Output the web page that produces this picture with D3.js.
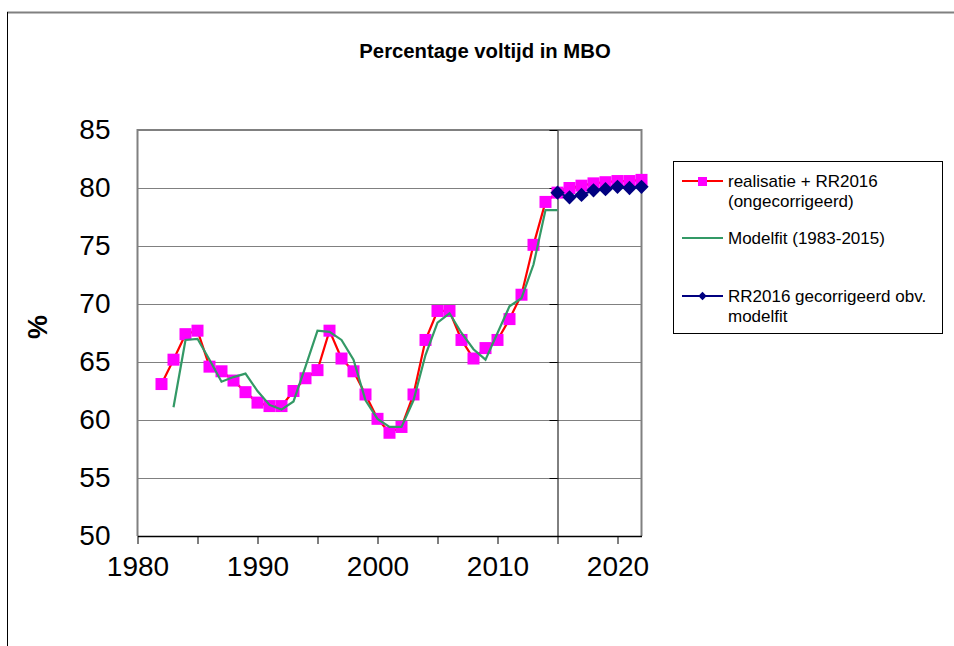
<!DOCTYPE html>
<html>
<head>
<meta charset="utf-8">
<script src="https://cdn.jsdelivr.net/npm/d3@7"></script>
<style>
  body { margin: 0; background: #fff; }
  svg { display: block; font-family: "Liberation Sans", Arial, sans-serif; }
</style>
</head>
<body>
<svg id="chart" width="954" height="646"></svg>
<script>
// data
const realYears = d3.range(1982, 2023)
const realVals = [63.1, 65.2, 67.4, 67.7, 64.6, 64.2, 63.4, 62.4, 61.5, 61.2,
  61.2, 62.5, 63.6, 64.3, 67.7, 65.3, 64.2, 62.2, 60.1, 58.9,
  59.4, 62.2, 66.9, 69.4, 69.4, 66.9, 65.3, 66.2, 66.9, 68.7,
  70.8, 75.1, 78.8, 79.6, 80.0, 80.2, 80.4, 80.5, 80.6, 80.6, 80.7]
const fitYears = d3.range(1983, 2016)
const fitVals = [61.1, 66.9, 67.0, 65.2, 63.3, 63.7, 64.0, 62.5, 61.3, 60.9,
  61.6, 64.6, 67.7, 67.6, 66.9, 65.2, 61.7, 60.1, 59.4, 59.4,
  61.7, 65.6, 68.4, 69.2, 67.5, 66.1, 65.2, 67.5, 69.8, 70.5,
  73.4, 78.1, 78.1]
const corrYears = d3.range(2015, 2023)
const corrVals = [79.6, 79.2, 79.4, 79.8, 79.9, 80.1, 80.0, 80.1]

const xTicks = d3.range(1980, 2021, 5)
const yTicks = d3.range(50, 86, 5)
const legendItems = [
  {lines: ["realisatie + RR2016", "(ongecorrigeerd)"], color: "#ff0000", marker: "square"},
  {lines: ["Modelfit (1983-2015)"], color: "#339966", marker: null},
  {lines: ["RR2016 gecorrigeerd obv.", "modelfit"], color: "#000080", marker: "diamond"}
]

const svg = d3.select("#chart")
const plot = {left: 137.5, right: 641.5, top: 130, bottom: 536}

let x = d3.scaleLinear().domain([1980, 2022]).range([plot.left, plot.right])
let y = d3.scaleLinear().domain([50, 85]).range([plot.bottom, plot.top])

// outer frame (only top and left visible)
svg.append("line").attr("x1", 7).attr("x2", 954).attr("y1", 12.5).attr("y2", 12.5)
  .attr("stroke", "#808080").attr("stroke-width", 2)
svg.append("line").attr("x1", 7.5).attr("x2", 7.5).attr("y1", 12).attr("y2", 646)
  .attr("stroke", "#000").attr("stroke-width", 1)

svg.append("text").attr("x", 485).attr("y", 58).attr("text-anchor", "middle")
  .attr("font-size", 20.3).attr("font-weight", "bold").text("Percentage voltijd in MBO")

// gridlines
svg.append("g").selectAll("line").data(yTicks.filter(d => d > 50 && d < 85)).join("line")
  .attr("x1", plot.left).attr("x2", plot.right)
  .attr("y1", d => Math.round(y(d)) + 0.5).attr("y2", d => Math.round(y(d)) + 0.5)
  .attr("stroke", "#000").attr("stroke-dasharray", "1,1")

// plot border
svg.append("path")
  .attr("d", `M${plot.left},${plot.bottom}V${plot.top}H${plot.right}V${plot.bottom}`)
  .attr("fill", "none").attr("stroke", "#808080").attr("stroke-width", 2)

// x axis
let xAxis = d3.axisBottom(x).tickValues(xTicks).tickSize(8).tickSizeOuter(0)
  .tickFormat(d => d % 10 === 0 ? d : "")
let gx = svg.append("g").attr("transform", `translate(0,${plot.bottom})`).call(xAxis)
gx.select(".domain").attr("stroke", "#000").attr("stroke-width", 1.5)
gx.selectAll("text").attr("font-size", 28).attr("fill", "#000").attr("dy", "1.05em")
  .attr("font-family", "Liberation Sans, Arial, sans-serif")

// y axis crosses at 2015
let yAxis = d3.axisLeft(y).tickValues(yTicks).tickSize(8).tickSizeOuter(0).tickFormat("")
svg.append("g").attr("transform", `translate(${x(2015)},0)`).call(yAxis)
  .select(".domain").attr("stroke", "#000")

// y labels sit at the low end
let yLab = d3.axisLeft(y).tickValues(yTicks).tickSize(0).tickPadding(27)
let gy = svg.append("g").attr("transform", `translate(${plot.left},0)`).call(yLab)
gy.select(".domain").remove()
gy.selectAll("text").attr("font-size", 28).attr("fill", "#000")
  .attr("font-family", "Liberation Sans, Arial, sans-serif")

svg.append("text").attr("transform", "translate(47,327) rotate(-90)")
  .attr("text-anchor", "middle").attr("font-size", 27).attr("font-weight", "bold").text("%")

const line = d3.line().x(d => x(d[0])).y(d => y(d[1]))
const real = realYears.map((yr, i) => [yr, realVals[i]])
const fit = fitYears.map((yr, i) => [yr, fitVals[i]])
const corr = corrYears.map((yr, i) => [yr, corrVals[i]])

svg.append("path").attr("d", line(real)).attr("fill", "none")
  .attr("stroke", "#ff0000").attr("stroke-width", 2.2)
svg.append("g").selectAll("rect").data(real).join("rect")
  .attr("x", d => x(d[0]) - 6).attr("y", d => y(d[1]) - 6)
  .attr("width", 12).attr("height", 12).attr("fill", "#ff00ff")

svg.append("path").attr("d", line(fit)).attr("fill", "none")
  .attr("stroke", "#339966").attr("stroke-width", 2.2)

svg.append("path").attr("d", line(corr)).attr("fill", "none")
  .attr("stroke", "#000080").attr("stroke-width", 2)
svg.append("g").selectAll("path").data(corr).join("path")
  .attr("d", d3.symbol(d3.symbolDiamond2, 130))
  .attr("transform", d => `translate(${x(d[0])},${y(d[1])})`).attr("fill", "#000080")

// legend
const lg = svg.append("g")
lg.append("rect").attr("x", 673.5).attr("y", 161.5).attr("width", 269).attr("height", 172)
  .attr("fill", "#fff").attr("stroke", "#000")
const rowY = [181, 238, 296]
legendItems.forEach((it, i) => {
  let g = lg.append("g").attr("transform", `translate(0,${rowY[i]})`)
  g.append("line").attr("x1", 682).attr("x2", 723).attr("stroke", it.color).attr("stroke-width", 2)
  if (it.marker === "square")
    g.append("rect").attr("x", 698).attr("y", -4).attr("width", 9).attr("height", 9).attr("fill", "#ff00ff")
  if (it.marker === "diamond")
    g.append("path").attr("d", d3.symbol(d3.symbolDiamond2, 45)).attr("transform", "translate(702.5,0)")
      .attr("fill", "#000080")
  it.lines.forEach((t, j) => {
    g.append("text").attr("x", 728).attr("y", j * 19.5).attr("dy", "0.36em")
      .attr("font-size", 17).text(t)
  })
})
</script>
</body>
</html>
